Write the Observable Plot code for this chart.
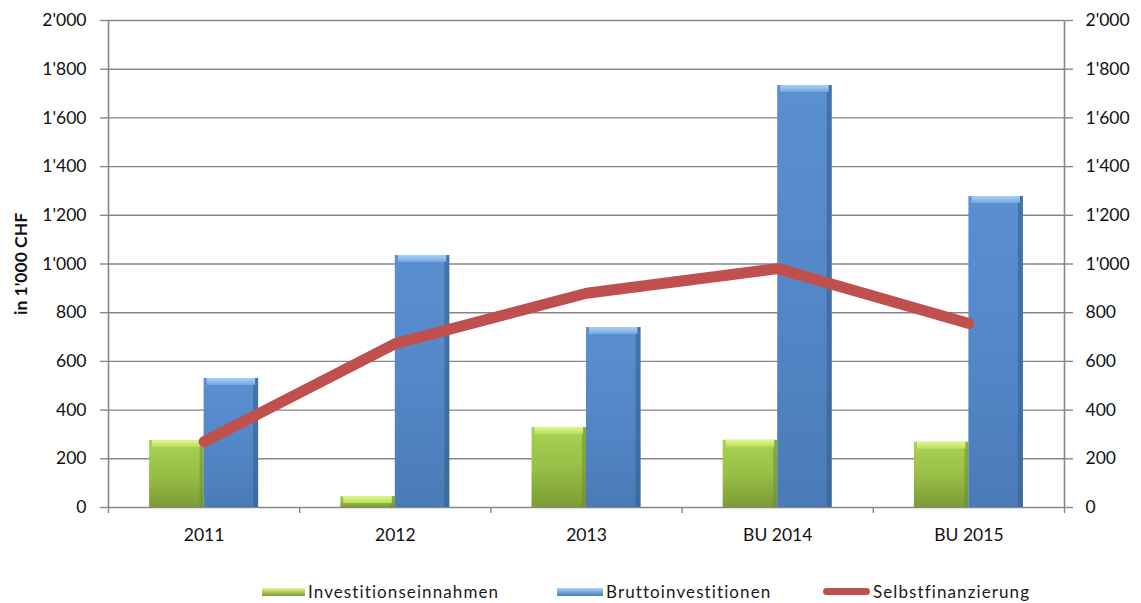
<!DOCTYPE html>
<html><head><meta charset="utf-8">
<script src="https://cdn.jsdelivr.net/npm/d3@7"></script>
<script src="https://cdn.jsdelivr.net/npm/@observablehq/plot@0.6"></script>
<style>
body{margin:0;background:#fff;font-family:Lato,"Open Sans",sans-serif;}
#wrap{position:relative;width:1141px;height:603px;}
#legend{position:absolute;top:581px;left:0;width:1141px;font-size:17px;color:#1a1a1a;letter-spacing:1.1px;}
.item{position:absolute;display:flex;align-items:center;white-space:nowrap;}
.sw{display:inline-block;margin-right:3px;}
</style></head>
<body><div id="wrap"><div id="chart"></div><div id="legend"></div></div>
<script>
const categories = ["2011", "2012", "2013", "BU 2014", "BU 2015"];
const investitionseinnahmen = [275, 45, 328, 276, 268];
const bruttoinvestitionen = [530, 1035, 739, 1733, 1277];
const selbstfinanzierung = [270, 673, 880, 981, 756];
const yTicks = [0, 200, 400, 600, 800, 1000, 1200, 1400, 1600, 1800, 2000];
const seriesNames = ["Investitionseinnahmen", "Bruttoinvestitionen", "Selbstfinanzierung"];

const fmt = d3.formatLocale({decimal: ".", thousands: "'", grouping: [3], currency: ["", ""]}).format(",");
const bw = 0.285;
const green = categories.map((c, i) => ({i, c, x1: i + 0.5 - bw, x2: i + 0.5, v: investitionseinnahmen[i]}));
const blue = categories.map((c, i) => ({i, c, x1: i + 0.5, x2: i + 0.5 + bw, v: bruttoinvestitionen[i]}));
const line = categories.map((c, i) => ({x: i + 0.5, v: selbstfinanzierung[i]}));
const bounds = d3.range(categories.length + 1);

const grid = "#878787";
const plot = Plot.plot({
  width: 1141, height: 552,
  marginLeft: 108, marginRight: 77, marginTop: 20, marginBottom: 45,
  style: {fontFamily: "Lato, 'Open Sans', sans-serif", fontSize: "17.5px", color: "#111", background: "white"},
  x: {type: "linear", domain: [0, categories.length], axis: null},
  y: {domain: [0, 2000], axis: null},
  marks: [
    Plot.ruleY(yTicks, {stroke: grid, strokeWidth: 1.4, strokeOpacity: 1}),
    Plot.ruleX([0, categories.length], {stroke: grid, strokeWidth: 1.6}),
    Plot.axisY({anchor: "left", ticks: yTicks, tickFormat: fmt, tickSize: 8, tickPadding: 14, stroke: grid, strokeWidth: 1.4, strokeOpacity: 1,
      label: "in 1'000 CHF", labelAnchor: "center", labelArrow: "none", labelOffset: 94}),
    Plot.axisY({anchor: "right", ticks: yTicks, tickFormat: fmt, tickSize: 8, tickPadding: 13, stroke: grid, strokeWidth: 1.4, strokeOpacity: 1, label: null}),
    Plot.axisX({ticks: bounds, tickFormat: () => "", tickSize: 6, stroke: grid, strokeWidth: 1.4, strokeOpacity: 1, label: null}),
    Plot.axisX({ticks: categories.map((c, i) => i + 0.5), tickFormat: (d) => categories[Math.round(d - 0.5)], tickSize: 0, tickPadding: 21, label: null}),
    // green bars
    Plot.rectY(green, {x1: "x1", x2: "x2", y1: 0, y2: "v", fill: "url(#gGreen)"}),
    Plot.rectY(green, {x1: "x2", x2: "x2", y1: 0, y2: "v", insetLeft: -4, fill: "#6f8d2f", fillOpacity: 0.55}),
    Plot.rectY(green, {x1: "x1", x2: "x2", y1: "v", y2: "v", insetBottom: -7, insetLeft: 3, insetRight: 3, fill: "url(#gGreenTop)"}),
    // blue bars
    Plot.rectY(blue, {x1: "x1", x2: "x2", y1: 0, y2: "v", fill: "url(#gBlue)"}),
    Plot.rectY(blue, {x1: "x2", x2: "x2", y1: 0, y2: "v", insetLeft: -5, fill: "#36608f", fillOpacity: 0.6}),
    Plot.rectY(blue, {x1: "x1", x2: "x2", y1: "v", y2: "v", insetBottom: -7, insetLeft: 3, insetRight: 3, fill: "url(#gBlueTop)"}),
    Plot.line(line, {x: "x", y: "v", stroke: "#c0504d", strokeWidth: 11, strokeLinecap: "round", strokeLinejoin: "round"})
  ]
});

const svg = d3.select(plot);
const defs = svg.insert("defs", ":first-child");
function grad(id, stops, vertical) {
  const g = defs.append("linearGradient").attr("id", id)
    .attr("x1", 0).attr("y1", 0).attr("x2", vertical ? 0 : 1).attr("y2", vertical ? 1 : 0);
  stops.forEach(([o, c]) => g.append("stop").attr("offset", o).attr("stop-color", c));
}
grad("gGreen", [[0, "#a9d253"], [0.5, "#98c046"], [1, "#7b9b35"]], true);
grad("gGreenTop", [[0, "#e2f98c"], [1, "#b7dc5e"]], true);
grad("gBlue", [[0, "#5a8fd2"], [0.5, "#5387c8"], [1, "#4a7bb8"]], true);
grad("gBlueTop", [[0, "#a9d2f7"], [1, "#73a7e2"]], true);
svg.selectAll("text").filter(function(){ return this.textContent === "in 1'000 CHF"; })
  .attr("font-weight", "bold").attr("fill", "#111");
document.getElementById("chart").appendChild(plot);

// legend
const leg = document.getElementById("legend");
const items = [
  {left: 262, sw: `<span class="sw" style="width:43px;height:8px;background:linear-gradient(#e2f98c,#7b9b35)"></span>`},
  {left: 557, sw: `<span class="sw" style="width:46px;height:8px;background:linear-gradient(#a9d2f7,#4a7bb8)"></span>`},
  {left: 823, sw: `<span class="sw" style="width:47px;height:7px;border-radius:4px;background:#c0504d"></span>`}
];
items.forEach((it, k) => {
  const d = document.createElement("div");
  d.className = "item"; d.style.left = it.left + "px";
  d.innerHTML = it.sw + `<span>${seriesNames[k]}</span>`;
  leg.appendChild(d);
});
</script></body></html>
